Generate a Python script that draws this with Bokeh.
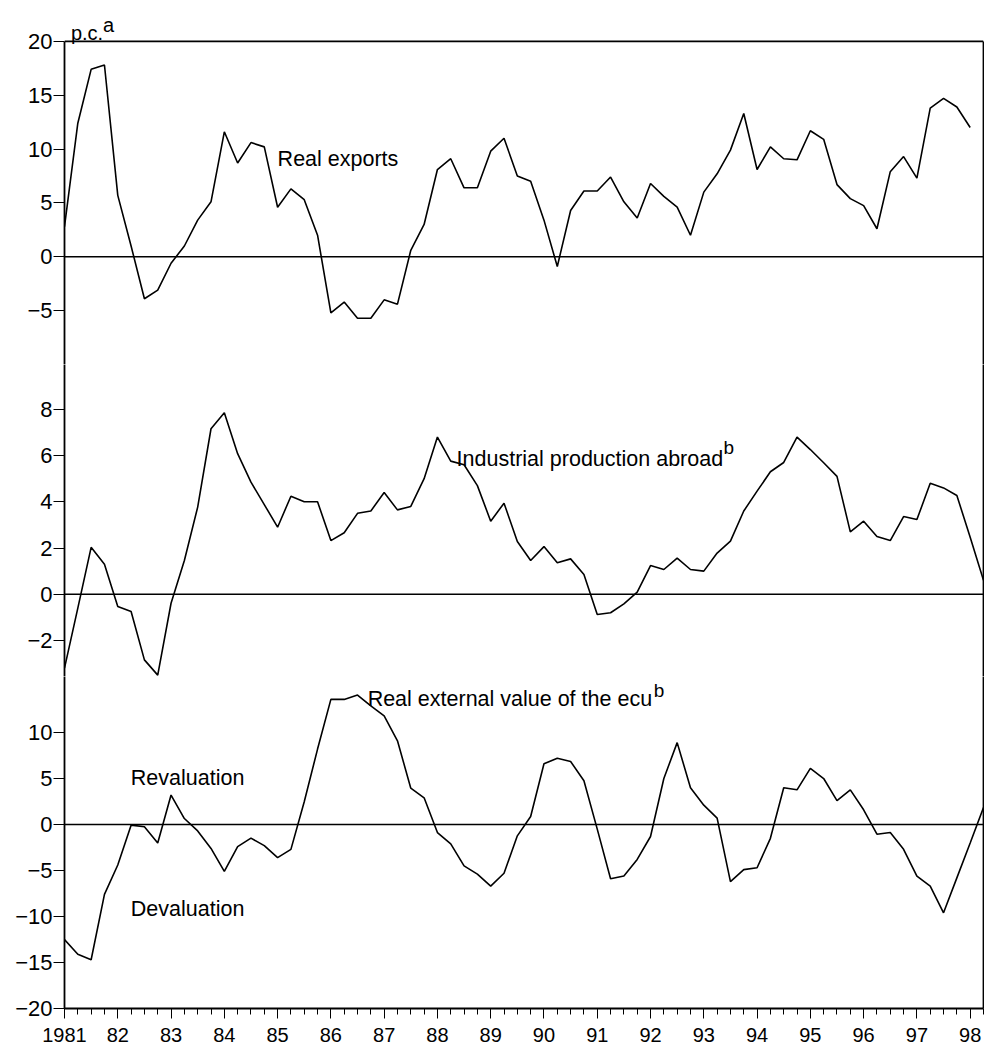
from bokeh.plotting import figure
from bokeh.models import Range1d, FixedTicker, LinearAxis, Span, Label
from bokeh.layouts import gridplot
from bokeh.embed import file_html
from bokeh.resources import INLINE

# ---------------- data (quarterly, from 1981 Q1) ----------------
real_exports = [2.8, 12.4, 17.4, 17.8, 5.7, 1.0, -3.9, -3.1, -0.6, 1.0,
                3.4, 5.1, 11.6, 8.7, 10.6, 10.2, 4.6, 6.3, 5.3, 2.0,
                -5.2, -4.2, -5.7, -5.7, -4.0, -4.4, 0.6, 3.0, 8.1, 9.1,
                6.4, 6.4, 9.8, 11.0, 7.5, 7.0, 3.4, -0.9, 4.3, 6.1,
                6.1, 7.4, 5.1, 3.6, 6.8, 5.6, 4.6, 2.0, 6.0, 7.7,
                9.9, 13.3, 8.1, 10.2, 9.1, 9.0, 11.7, 10.9, 6.7, 5.4,
                4.75, 2.6, 7.9, 9.3, 7.3, 13.8, 14.7, 13.9, 12.0]

industrial_production = [-3.2, -0.6, 2.03, 1.3, -0.53, -0.75, -2.84, -3.5, -0.39, 1.46,
                         3.77, 7.16, 7.85, 6.08, 4.85, 3.88, 2.9, 4.24, 4.0, 4.0,
                         2.32, 2.66, 3.5, 3.6, 4.4, 3.65, 3.8, 5.0, 6.8, 5.76,
                         5.6, 4.7, 3.16, 3.94, 2.28, 1.46, 2.06, 1.36, 1.53, 0.85,
                         -0.88, -0.8, -0.42, 0.09, 1.24, 1.07, 1.56, 1.07, 1.0, 1.78,
                         2.3, 3.6, 4.46, 5.3, 5.7, 6.8, 6.26, 5.69, 5.1, 2.7,
                         3.16, 2.5, 2.32, 3.36, 3.23, 4.8, 4.6, 4.27, 2.47, 0.6]

ecu_value = [-12.5, -14.1, -14.7, -7.6, -4.4, -0.07, -0.25, -2.0, 3.2, 0.65,
             -0.7, -2.6, -5.1, -2.4, -1.48, -2.3, -3.6, -2.7, 2.47, 8.2,
             13.6, 13.6, 14.07, 12.9, 11.8, 9.1, 3.95, 2.9, -0.87, -2.1,
             -4.5, -5.4, -6.7, -5.3, -1.23, 0.87, 6.6, 7.2, 6.85, 4.75,
             -0.5, -5.9, -5.6, -3.8, -1.3, 5.0, 8.9, 4.0, 2.1, 0.7,
             -6.2, -4.9, -4.7, -1.5, 4.0, 3.77, 6.1, 5.0, 2.6, 3.77,
             1.6, -1.05, -0.87, -2.7, -5.6, -6.7, -9.6, -5.8, -2.0, 1.85]

year_ticks = list(range(1981, 1999))
year_labels = ["1981", "82", "83", "84", "85", "86", "87", "88", "89",
               "90", "91", "92", "93", "94", "95", "96", "97", "98"]
top_ticks = [20, 15, 10, 5, 0, -5]
mid_ticks = [8, 6, 4, 2, 0, -2]
bot_ticks = [10, 5, 0, -5, -10, -15, -20]

quarters = [1981 + i / 4 for i in range(len(ecu_value))]

FONT = "Liberation Sans"
W = 984
LEFT = 64


def minus(v):
    return str(v).replace("-", "\u2212")


x_range = Range1d(1981, 1998.25)


def make_fig(height, yr, ticks, bounds="auto", border_top=0, border_bottom=0, xloc=None):
    p = figure(width=W, height=height, x_range=x_range, y_range=Range1d(*yr),
               output_backend="svg", toolbar_location=None, x_axis_location=xloc,
               min_border_left=LEFT, min_border_right=1,
               min_border_top=border_top, min_border_bottom=border_bottom,
               outline_line_color=None, background_fill_color="white",
               border_fill_color="white")
    p.grid.grid_line_color = None
    ya = p.yaxis[0]
    ya.bounds = bounds
    ya.ticker = FixedTicker(ticks=ticks)
    ya.major_label_overrides = {t: minus(t) for t in ticks}
    ya.major_tick_out = 11
    ya.major_tick_in = 0
    ya.minor_tick_out = 0
    ya.minor_tick_in = 0
    ya.major_tick_line_width = 1
    ya.major_tick_line_color = "black"
    ya.major_label_standoff = 1
    ya.major_label_text_font = FONT
    ya.major_label_text_font_size = "22px"
    ya.major_label_text_color = "black"
    ya.axis_line_width = 1.8
    ya.axis_line_color = "black"
    right = LinearAxis(ticker=FixedTicker(ticks=[]), bounds=bounds,
                       major_tick_out=0, major_tick_in=0,
                       minor_tick_out=0, minor_tick_in=0, major_label_standoff=0,
                       major_label_text_font_size="0px", axis_line_width=1.8,
                       axis_line_color="black")
    p.add_layout(right, "right")
    p.add_layout(Span(location=0, dimension="width", line_color="black", line_width=1.5))
    return p


def text(x, y, s, size="21.5px", x_offset=0):
    return Label(x=x, y=y, text=s, x_offset=x_offset, text_font=FONT,
                 text_font_size=size, text_color="black", text_baseline="alphabetic",
                 text_align="left")


# ---------------- top panel: real exports ----------------
p1 = make_fig(364, (-10, 22.86), top_ticks, bounds=(-10, 20), border_top=10)
p1.add_layout(Span(location=20, dimension="width", line_color="black", line_width=1.8))
p1.line(quarters[:len(real_exports)], real_exports, line_color="black", line_width=1.6)
p1.add_layout(text(1985.0, 9.1, "Real exports"))
p1.add_layout(text(1981.12, 20.75, "p.c.", size="20px"))
p1.add_layout(text(1981.12, 21.55, "a", size="20px", x_offset=32))

# ---------------- middle panel: industrial production abroad ----------------
p2 = make_fig(312, (-3.56, 9.94), mid_ticks)
p2.line(quarters, industrial_production, line_color="black", line_width=1.6)
p2.add_layout(text(1988.36, 5.87, "Industrial production abroad"))
p2.add_layout(text(1988.36, 6.35, "b", size="19px", x_offset=267))

# ---------------- bottom panel: real external value of the ecu ----------------
p3 = make_fig(374, (-20, 16.09), bot_ticks, border_bottom=42, xloc="below")
xa = p3.xaxis[0]
xa.ticker = FixedTicker(ticks=year_ticks, minor_ticks=quarters)
xa.major_label_overrides = dict(zip(year_ticks, year_labels))
xa.major_tick_out = 10
xa.major_tick_in = 0
xa.minor_tick_out = 6
xa.minor_tick_in = 0
xa.major_tick_line_color = "black"
xa.minor_tick_line_color = "black"
xa.major_label_standoff = 9
xa.major_label_text_font = FONT
xa.major_label_text_font_size = "20px"
xa.major_label_text_color = "black"
xa.axis_line_width = 1.8
xa.axis_line_color = "black"
p3.line(quarters, ecu_value, line_color="black", line_width=1.6)
p3.add_layout(text(1986.69, 13.66, "Real external value of the ecu"))
p3.add_layout(text(1986.69, 14.6, "b", size="19px", x_offset=286))
p3.add_layout(text(1982.245, 5.08, "Revaluation"))
p3.add_layout(text(1982.245, -9.16, "Devaluation"))

grid = gridplot([[p1], [p2], [p3]], toolbar_location=None)

open("out.html", "w").write(file_html(grid, INLINE))
